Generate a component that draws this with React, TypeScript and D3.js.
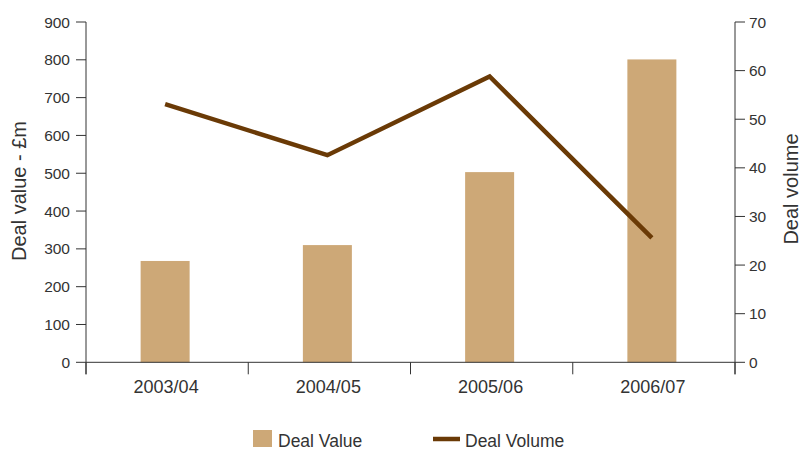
import React from "react";
import * as d3 from "d3";

const categories = ["2003/04", "2004/05", "2005/06", "2006/07"];
const dealValue = [268, 310, 503, 801];
const dealVolume = [53.1, 42.6, 58.8, 25.6];
const leftTicks = [0, 100, 200, 300, 400, 500, 600, 700, 800, 900];
const rightTicks = [0, 10, 20, 30, 40, 50, 60, 70];

const W = 801, H = 450;
const x0 = 86, x1 = 735, yTop = 22, yBot = 362.3;
const BAR = "#CDA877";
const LINE = "#6A3A06";
const TXT = "#333333";
const FONT = "'Liberation Sans', Arial, sans-serif";

export default function App() {
  const x = d3.scaleBand<string>().domain(categories).range([x0, x1]).padding(0);
  const yL = d3.scaleLinear().domain([0, 900]).range([yBot, yTop]);
  const yR = d3.scaleLinear().domain([0, 70]).range([yBot, yTop]);
  const bw = 49;
  const line = d3
    .line<number>()
    .x((_, i) => (x(categories[i]) as number) + x.bandwidth() / 2 - 2)
    .y((d) => yR(d));
  const seps = [x0, ...categories.slice(1).map((c) => x(c) as number), x1];

  return (
    <svg width={W} height={H} style={{ position: "absolute", left: 0, top: 0 }} fontFamily={FONT}>
      <rect width={W} height={H} fill="#fff" />
      {categories.map((c, i) => (
        <rect
          key={c}
          x={(x(c) as number) + x.bandwidth() / 2 - bw / 2 - 2}
          y={yL(dealValue[i])}
          width={bw}
          height={yBot - yL(dealValue[i])}
          fill={BAR}
        />
      ))}
      <path d={line(dealVolume) || ""} fill="none" stroke={LINE} strokeWidth={4.5} strokeLinejoin="miter" />
      {/* left axis */}
      <line x1={x0} x2={x0} y1={yTop} y2={yBot + 12} stroke={TXT} strokeWidth={1} />
      {leftTicks.map((t) => (
        <g key={t}>
          <line x1={x0 - 10} x2={x0} y1={yL(t)} y2={yL(t)} stroke={TXT} />
          <text x={x0 - 16} y={yL(t)} dy="0.36em" textAnchor="end" fontSize={15.5} fill={TXT}>
            {t}
          </text>
        </g>
      ))}
      {/* right axis */}
      <line x1={x1} x2={x1} y1={yTop} y2={yBot + 12} stroke={TXT} strokeWidth={1} />
      {rightTicks.map((t) => (
        <g key={t}>
          <line x1={x1} x2={x1 + 10} y1={yR(t)} y2={yR(t)} stroke={TXT} />
          <text x={x1 + 14} y={yR(t)} dy="0.36em" textAnchor="start" fontSize={15.5} fill={TXT}>
            {t}
          </text>
        </g>
      ))}
      {/* bottom axis */}
      <line x1={x0} x2={x1} y1={yBot} y2={yBot} stroke={TXT} strokeWidth={1} />
      {seps.map((s, i) => (
        <line key={i} x1={s} x2={s} y1={yBot} y2={yBot + 12} stroke={TXT} />
      ))}
      {categories.map((c) => (
        <text
          key={c}
          x={(x(c) as number) + x.bandwidth() / 2 - 1}
          y={393}
          textAnchor="middle"
          fontSize={18}
          fill={TXT}
        >
          {c}
        </text>
      ))}
      <text transform={`translate(26,191) rotate(-90)`} textAnchor="middle" fontSize={20} fill={TXT}>
        Deal value - £m
      </text>
      <text transform={`translate(798,189) rotate(-90)`} textAnchor="middle" fontSize={20} fill={TXT}>
        Deal volume
      </text>
      {/* legend */}
      <rect x={253} y={430} width={19} height={17} fill={BAR} />
      <text x={278} y={447} fontSize={17.5} fill={TXT}>
        Deal Value
      </text>
      <line x1={433} x2={460} y1={439} y2={439} stroke={LINE} strokeWidth={4.5} />
      <text x={465} y={447} fontSize={17.5} fill={TXT}>
        Deal Volume
      </text>
    </svg>
  );
}
